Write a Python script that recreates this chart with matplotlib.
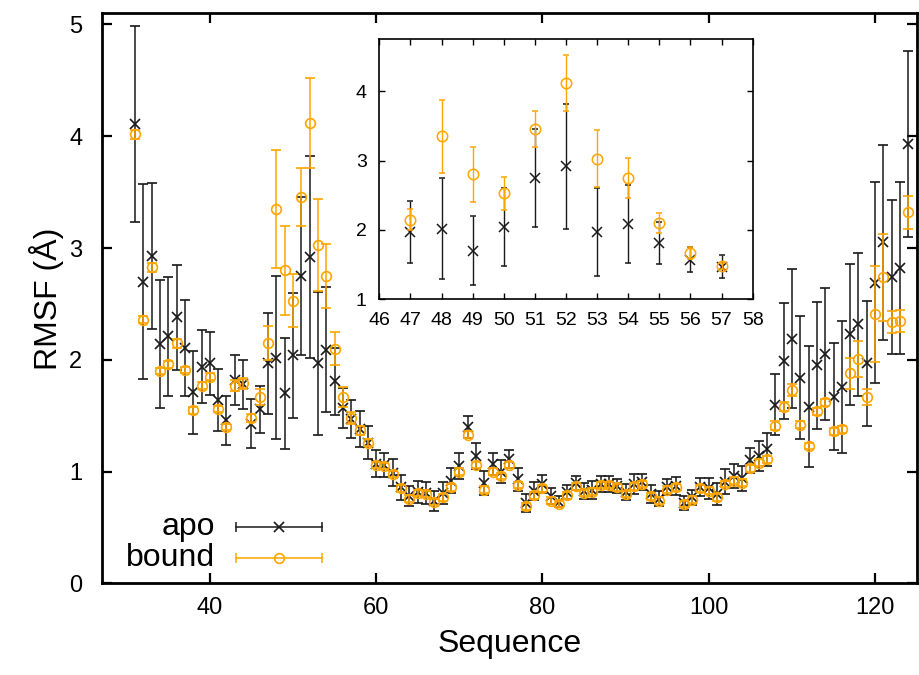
import matplotlib
matplotlib.use("Agg")
import matplotlib.pyplot as plt

plt.rcParams["font.family"] = ["Liberation Sans", "DejaVu Sans"]

# residue numbers
residues = list(range(31, 125))

apo_rmsf = [
    4.11, 2.70, 2.93, 2.14, 2.21, 2.38, 2.11, 1.71, 1.94, 1.97,  # 31-40
    1.64, 1.46, 1.82, 1.78, 1.43, 1.56, 1.97, 2.02, 1.70, 2.04,  # 41-50
    2.75, 2.92, 1.97, 2.09, 1.81, 1.57, 1.47, 1.38, 1.26, 1.07,  # 51-60
    1.06, 0.99, 0.86, 0.78, 0.82, 0.81, 0.74, 0.81, 0.92, 1.05,  # 61-70
    1.40, 1.14, 0.90, 1.07, 1.00, 1.11, 0.93, 0.72, 0.83, 0.89,  # 71-80
    0.78, 0.73, 0.82, 0.90, 0.83, 0.84, 0.89, 0.89, 0.87, 0.82,  # 81-90
    0.89, 0.91, 0.80, 0.76, 0.86, 0.87, 0.72, 0.77, 0.86, 0.85,  # 91-100
    0.80, 0.91, 0.96, 0.94, 1.10, 1.14, 1.20, 1.60, 1.99, 2.19,  # 101-110
    1.84, 1.58, 1.95, 2.05, 1.67, 1.76, 2.23, 2.32, 1.97, 2.69,  # 111-120
    3.05, 2.74, 2.82, 3.93,                                      # 121-124
]
apo_err = [
    0.88, 0.87, 0.65, 0.57, 0.53, 0.47, 0.43, 0.37, 0.33, 0.28,
    0.28, 0.22, 0.22, 0.22, 0.22, 0.21, 0.45, 0.73, 0.50, 0.56,
    0.71, 0.90, 0.64, 0.56, 0.30, 0.18, 0.17, 0.16, 0.15, 0.12,
    0.11, 0.12, 0.11, 0.09, 0.10, 0.10, 0.09, 0.10, 0.11, 0.12,
    0.10, 0.12, 0.11, 0.10, 0.10, 0.08, 0.10, 0.08, 0.08, 0.08,
    0.07, 0.05, 0.06, 0.06, 0.07, 0.08, 0.07, 0.07, 0.06, 0.07,
    0.09, 0.07, 0.08, 0.07, 0.07, 0.08, 0.06, 0.07, 0.08, 0.09,
    0.10, 0.11, 0.11, 0.11, 0.11, 0.13, 0.15, 0.27, 0.52, 0.62,
    0.55, 0.54, 0.57, 0.59, 0.48, 0.59, 0.63, 0.64, 0.56, 0.90,
    0.87, 0.69, 0.77, 0.83,
]

bound_rmsf = [
    4.02, 2.36, 2.83, 1.90, 1.96, 2.15, 1.91, 1.55, 1.77, 1.85,
    1.56, 1.40, 1.77, 1.79, 1.48, 1.67, 2.15, 3.35, 2.80, 2.53,
    3.46, 4.12, 3.03, 2.75, 2.10, 1.67, 1.48, 1.37, 1.26, 1.06,
    1.05, 0.98, 0.85, 0.76, 0.81, 0.80, 0.73, 0.77, 0.86, 1.00,
    1.33, 1.06, 0.84, 1.00, 0.96, 1.06, 0.88, 0.69, 0.79, 0.85,
    0.74, 0.71, 0.79, 0.87, 0.81, 0.82, 0.88, 0.88, 0.86, 0.80,
    0.87, 0.89, 0.78, 0.74, 0.84, 0.86, 0.71, 0.75, 0.85, 0.83,
    0.77, 0.89, 0.92, 0.90, 1.03, 1.08, 1.11, 1.41, 1.58, 1.73,
    1.42, 1.23, 1.54, 1.62, 1.36, 1.38, 1.88, 2.01, 1.67, 2.41,
    2.74, 2.34, 2.35, 3.32,
]
bound_err = [
    0.04, 0.03, 0.04, 0.03, 0.03, 0.04, 0.03, 0.03, 0.03, 0.03,
    0.03, 0.03, 0.05, 0.05, 0.04, 0.07, 0.15, 0.53, 0.40, 0.24,
    0.26, 0.40, 0.41, 0.29, 0.15, 0.09, 0.05, 0.04, 0.03, 0.03,
    0.03, 0.03, 0.03, 0.03, 0.03, 0.03, 0.03, 0.03, 0.03, 0.03,
    0.03, 0.03, 0.03, 0.03, 0.03, 0.03, 0.03, 0.03, 0.03, 0.03,
    0.03, 0.03, 0.03, 0.03, 0.03, 0.03, 0.03, 0.03, 0.03, 0.03,
    0.03, 0.03, 0.03, 0.03, 0.03, 0.03, 0.03, 0.03, 0.03, 0.03,
    0.03, 0.03, 0.03, 0.03, 0.03, 0.03, 0.03, 0.04, 0.04, 0.05,
    0.03, 0.03, 0.03, 0.03, 0.03, 0.03, 0.14, 0.16, 0.07, 0.43,
    0.39, 0.10, 0.10, 0.15,
]

main_xticks = [40, 60, 80, 100, 120]
main_yticks = [0, 1, 2, 3, 4, 5]
inset_first, inset_last = 47, 57
inset_xticks = list(range(46, 59))
inset_yticks = [1, 2, 3, 4]

APO_COLOR = "#1a1a1a"
BOUND_COLOR = "#ffa500"


def draw_series(ax, lw, cap, ms_x, ms_o, i0=0, i1=None):
    xs = residues[i0:i1]
    ax.errorbar(xs, apo_rmsf[i0:i1], yerr=apo_err[i0:i1], fmt="x", color=APO_COLOR,
                ecolor=APO_COLOR, elinewidth=lw, capsize=cap, capthick=lw,
                markersize=ms_x, markeredgewidth=lw * 1.1, zorder=2)
    ax.errorbar(xs, bound_rmsf[i0:i1], yerr=bound_err[i0:i1], fmt="o", color=BOUND_COLOR,
                ecolor=BOUND_COLOR, elinewidth=lw, capsize=cap, capthick=lw,
                markersize=ms_o, markerfacecolor="none", markeredgewidth=lw * 1.1, zorder=3)


fig = plt.figure(figsize=(9.19, 6.75), dpi=100)
ax = fig.add_axes([0.1107, 0.1356, 0.8868, 0.8447])

draw_series(ax, lw=1.1, cap=3.5, ms_x=7, ms_o=7)

ax.set_xlim(27, 125)
ax.set_ylim(0, 5.1)
ax.set_xticks(main_xticks)
ax.set_yticks(main_yticks)
ax.tick_params(direction="in", length=7, width=1.6, top=True, right=True, labelsize=17)
ax.tick_params(axis="y", pad=14)
ax.tick_params(axis="x", pad=10)
for sp in ax.spines.values():
    sp.set_linewidth(2.0)
ax.set_xlabel("Sequence", fontsize=23, labelpad=7)
ax.set_ylabel("RMSF (Å)", fontsize=23, labelpad=4)

# gnuplot-style key, bottom left
key = [("apo", "x", APO_COLOR, 0.0996), ("bound", "o", BOUND_COLOR, 0.0447)]
for label, mk, col, ky in key:
    ax.plot([0.1648, 0.2703], [ky, ky], color=col, lw=1.1, marker="|", markersize=7,
            markeredgewidth=1.1, transform=ax.transAxes, clip_on=False)
    ax.plot([0.2175], [ky], color=col, marker=mk, markersize=7, markerfacecolor="none",
            markeredgewidth=1.2, linestyle="none", transform=ax.transAxes)
    ax.text(0.139, ky, label, ha="right", va="center", fontsize=23, transform=ax.transAxes)

# inset: zoom on residues 47-57
axin = fig.add_axes([0.4127, 0.5566, 0.4063, 0.3852])
i0 = residues.index(inset_first)
i1 = residues.index(inset_last) + 1
draw_series(axin, lw=1.0, cap=2.5, ms_x=7, ms_o=7.5, i0=i0, i1=i1)
axin.set_xlim(46, 58)
axin.set_ylim(1, 4.75)
axin.set_xticks(inset_xticks)
axin.set_yticks(inset_yticks)
axin.tick_params(direction="in", length=4, width=1.0, top=True, right=True, labelsize=14)
axin.tick_params(axis="y", pad=9)
axin.tick_params(axis="x", pad=9)
for sp in axin.spines.values():
    sp.set_linewidth(1.2)

fig.savefig("out.png", dpi=100)
